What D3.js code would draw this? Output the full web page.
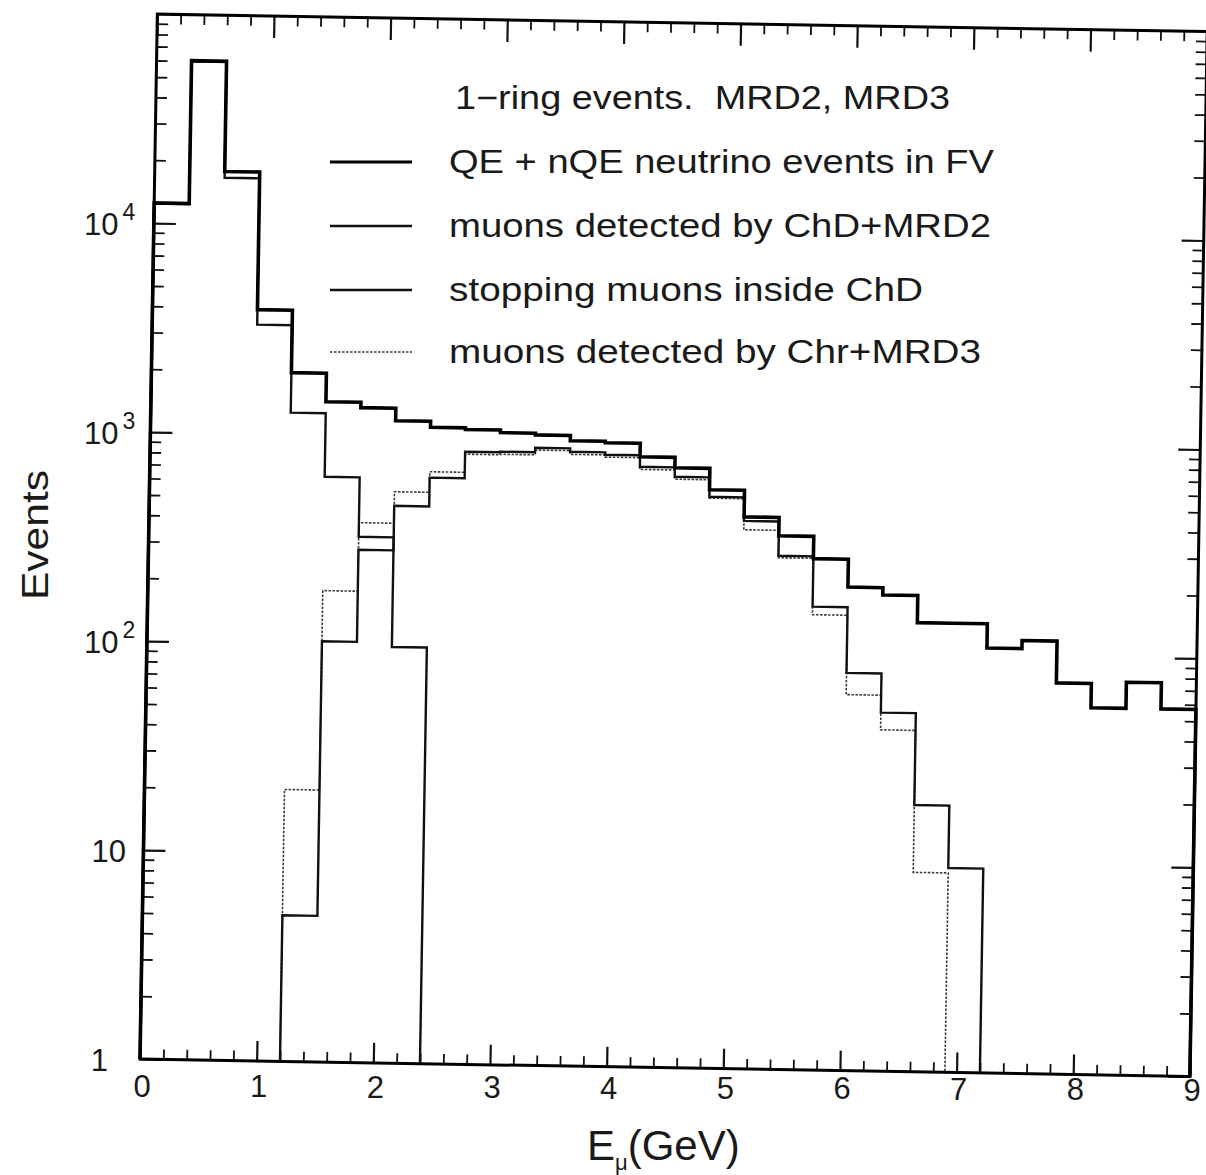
<!DOCTYPE html>
<html><head><meta charset="utf-8">
<script src="https://cdn.jsdelivr.net/npm/d3@7"></script>
<style>
body{margin:0;background:#fff}
svg{display:block}
text{font-family:"Liberation Sans",Arial,sans-serif;fill:#1a1a1a;white-space:pre}
</style>
</head><body>
<svg id="c" width="1206" height="1175"></svg>
<script>
// ---- data (bins of 0.3 GeV) ----
const binLow = [0,0.3,0.6,0.9,1.2,1.5,1.8,2.1,2.4,2.7,3.0,3.3,3.6,3.9,4.2,4.5,4.8,5.1,5.4,5.7,6.0,6.3,6.6,6.9,7.2,7.5,7.8,8.1,8.4,8.7];
const binWidth = 0.3;
const totalEvents = [12500,60300,17900,3930,1975,1443,1360,1185,1110,1090,1060,1040,982,967,833,743,587,438,358,280,206,190,141,141,108,118,74.5,57,76,57];
const chdMrd2     = [0,0,0,0,5,103,284,464,637,853,859,903,869,847,746,673,543,419,287,165,80,52,18.9,9.5,0,0,0,0,0,0];
const stoppingChD = [12400,59800,16700,3330,1271,631,328,98,0,0,0,0,0,0,0,0,0,0,0,0,0,0,0,0,0,0,0,0,0,0];
const chrMrd3     = [0,0,0,0,20,180,383,542,680,830,835,880,845,825,725,655,535,380,281,151,63,43,9,0,0,0,0,0,0,0];
const xTicks = [0,1,2,3,4,5,6,7,8,9];
const yTicks = [1,10,100,1000,10000];
const yTickBase = ["1","10","10","10","10"];
const yTickExp  = ["","","2","3","4"];
const titleText = "1\u2212ring events.  MRD2, MRD3";
const legendLabels = ["QE + nQE neutrino events in FV","muons detected by ChD+MRD2","stopping muons inside ChD","muons detected by Chr+MRD3"];

// ---- layout ----
const W = 1050, H = 1045, ox = 140, oy = 1059, angle = 0.95;
const x = d3.scaleLinear().domain([0,9]).range([0,W]);
const y = d3.scaleLog().domain([1,1e5]).range([0,-H]);
const svg = d3.select("#c");
svg.append("rect").attr("width",1206).attr("height",1175).attr("fill","#fff");
const g = svg.append("g").attr("transform",`translate(${ox},${oy}) rotate(${angle})`);

function styleAxis(sel, w){
  sel.select(".domain").remove();
  sel.selectAll("line").attr("stroke","#111").attr("stroke-width",w);
  sel.selectAll("text").remove();
}
const xMinor = d3.range(0,9.0001,0.2).filter(v => Math.abs(v-Math.round(v))>1e-6);
const yMinor = [];
for (let d=0; d<5; d++) for (let k=2;k<=9;k++) yMinor.push(k*Math.pow(10,d));

g.append("g").call(d3.axisBottom(x).tickValues(xTicks).tickSize(-20)).call(s=>styleAxis(s,2.2));
g.append("g").call(d3.axisBottom(x).tickValues(xMinor).tickSize(-10)).call(s=>styleAxis(s,1.8));
g.append("g").attr("transform",`translate(0,${-H})`).call(d3.axisTop(x).tickValues(xTicks).tickSize(-22)).call(s=>styleAxis(s,2.2));
g.append("g").attr("transform",`translate(0,${-H})`).call(d3.axisTop(x).tickValues(xMinor).tickSize(-10)).call(s=>styleAxis(s,1.8));
g.append("g").call(d3.axisLeft(y).tickValues(yTicks).tickSize(-22)).call(s=>styleAxis(s,2.2));
g.append("g").call(d3.axisLeft(y).tickValues(yMinor).tickSize(-11)).call(s=>styleAxis(s,1.8));
g.append("g").attr("transform",`translate(${W},0)`).call(d3.axisRight(y).tickValues(yTicks).tickSize(-22)).call(s=>styleAxis(s,2.2));
g.append("g").attr("transform",`translate(${W},0)`).call(d3.axisRight(y).tickValues(yMinor).tickSize(-11)).call(s=>styleAxis(s,1.8));

// ---- histograms ----
function stepPoints(vals){
  const nz = vals.map((v,i)=>v>0?i:-1).filter(i=>i>=0);
  const i0 = nz[0], i1 = nz[nz.length-1];
  const pts = [[binLow[i0],1]];
  for (let i=i0;i<=i1;i++){ const v=Math.max(vals[i],1); pts.push([binLow[i],v]); pts.push([binLow[i]+binWidth,v]); }
  pts.push([binLow[i1]+binWidth,1]);
  return pts;
}
const line = d3.line().x(d=>x(d[0])).y(d=>y(d[1]));
const series = [
  {vals: chrMrd3, w:1.6, dash:"2.5,1.5", col:"#3a3a3a"},
  {vals: chdMrd2, w:2.4, dash:null, col:"#111"},
  {vals: stoppingChD, w:2.4, dash:null, col:"#111"},
  {vals: totalEvents, w:3.6, dash:null, col:"#000"}
];
series.forEach(s=>{
  g.append("path").attr("d",line(stepPoints(s.vals))).attr("fill","none")
   .attr("stroke",s.col).attr("stroke-width",s.w).attr("stroke-dasharray",s.dash)
   .attr("stroke-linejoin","miter");
});

// frame
g.append("rect").attr("x",0).attr("y",-H).attr("width",W).attr("height",H)
 .attr("fill","none").attr("stroke","#000").attr("stroke-width",3);

// ---- tick labels (unrotated) ----
xTicks.forEach(v=>{
  svg.append("text").attr("x",ox+x(v)+2).attr("y",1097+v*0.4).attr("text-anchor","middle")
    .attr("font-size",31).text(v);
});
yTicks.forEach((v,i)=>{
  const yy = oy + y(v);
  const t = svg.append("text").attr("y",yy+12).attr("font-size",31);
  if (yTickExp[i]===""){
    t.attr("x", i===0 ? 108 : 126).attr("text-anchor","end").text(yTickBase[i]);
  } else {
    t.attr("x",84).text(yTickBase[i]);
    t.append("tspan").attr("font-size",23).attr("dy",-15).attr("dx",4).text(yTickExp[i]);
  }
});

// axis titles
svg.append("text").attr("transform","translate(48,535) rotate(-90)").attr("text-anchor","middle")
  .attr("font-size",36).attr("textLength",130).attr("lengthAdjust","spacingAndGlyphs").text("Events");
const xt = svg.append("text").attr("x",587).attr("y",1160).attr("font-size",42);
xt.append("tspan").text("E");
xt.append("tspan").attr("font-size",22).attr("dy",10).text("\u03bc");
xt.append("tspan").attr("dy",-10).text("(GeV)");

// ---- legend ----
svg.append("text").attr("x",455).attr("y",109).attr("font-size",33)
  .attr("textLength",495).attr("lengthAdjust","spacingAndGlyphs").text(titleText);
const legY = [162,226,290,352];
const legW = [545,542,474,532];
const legStyles = [series[3],series[1],series[2],series[0]];
legendLabels.forEach((lab,i)=>{
  const s = legStyles[i];
  svg.append("line").attr("x1",330).attr("x2",412).attr("y1",legY[i]).attr("y2",legY[i])
    .attr("stroke",s.col).attr("stroke-width",Math.min(s.w,3)).attr("stroke-dasharray",s.dash);
  svg.append("text").attr("x",449).attr("y",legY[i]+11).attr("font-size",33)
    .attr("textLength",legW[i]).attr("lengthAdjust","spacingAndGlyphs").text(lab);
});
</script>
</body></html>
